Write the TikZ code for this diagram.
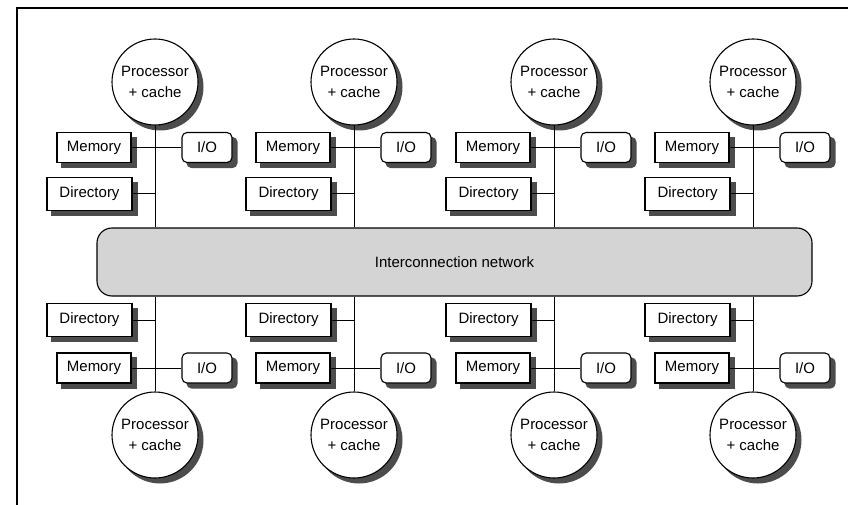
\documentclass[tikz,border=0pt]{standalone}
\usepackage{fontspec}
\setmainfont{Liberation Sans}
\usetikzlibrary{backgrounds}
\tikzset{
  unit/.style={draw=black, line width=1.1pt, fill=white, inner sep=0pt,
    font=\fontsize{15}{17}\selectfont},
  membox/.style={unit, minimum width=74pt, minimum height=30pt},
  dirbox/.style={unit, minimum width=85pt, minimum height=33pt},
  iobox/.style={unit, rounded corners=5pt, minimum width=50pt, minimum height=30pt},
  proc/.style={unit, circle, minimum size=86pt, align=center,
    font=\fontsize{15}{21}\selectfont},
  wire/.style={draw=black, line width=1pt},
  shadowfill/.style={fill=black!70},
  netbox/.style={draw=black, line width=1.1pt, fill=black!17, rounded corners=15pt,
    minimum width=715pt, minimum height=68pt, font=\fontsize{15}{17}\selectfont}
}
% drop shadow of a rectangular node, offset 5 right and 5 down
\newcommand{\boxshade}[2][0pt]{%
  \fill[shadowfill, rounded corners=#1] ([shift={(5,5)}]#2.south west) rectangle ([shift={(5,5)}]#2.north east);}
\newcommand{\discshade}[1]{%
  \fill[shadowfill] ([shift={(5,5)}]#1.center) circle (43.5pt);}
\begin{document}
\begin{tikzpicture}[x=1pt,y=-1pt]
\useasboundingbox (0,0) rectangle (848,505);
% outer frame: only the top and left edges
\draw[line width=1.2pt] (848,8) -- (17,8) -- (17,505);

% interconnection network
\node[netbox] (net) at (454.5,262) {Interconnection network};

\foreach \i/\cx in {1/155,2/354,3/554,4/753}{
  % upper node
  \node[proc]   (pt\i) at (\cx,82) {Processor\\+ cache};
  \node[membox] (mt\i) at (\cx-61,147.5) {Memory};
  \node[iobox]  (it\i) at (\cx+52,147.5) {I/O};
  \node[dirbox] (dt\i) at (\cx-65.5,194) {Directory};
  \draw[wire] (pt\i.south) -- (pt\i.south |- net.north);
  \draw[wire] (mt\i.east) -- (it\i.west);
  \draw[wire] (dt\i.east) -- (dt\i.east -| pt\i.south);
  % lower node
  \node[proc]   (pb\i) at (\cx,435) {Processor\\+ cache};
  \node[dirbox] (db\i) at (\cx-65.5,320) {Directory};
  \node[membox] (mb\i) at (\cx-61,368) {Memory};
  \node[iobox]  (ib\i) at (\cx+52,368) {I/O};
  \draw[wire] (pb\i.north) -- (pb\i.north |- net.south);
  \draw[wire] (mb\i.east) -- (ib\i.west);
  \draw[wire] (db\i.east) -- (db\i.east -| pb\i.north);
}
% shadows behind every unit
\begin{scope}[on background layer]
\foreach \i in {1,2,3,4}{
  \discshade{pt\i} \discshade{pb\i}
  \boxshade{mt\i} \boxshade{dt\i} \boxshade[5pt]{it\i}
  \boxshade{mb\i} \boxshade{db\i} \boxshade[5pt]{ib\i}
}
\end{scope}
\end{tikzpicture}
\end{document}
